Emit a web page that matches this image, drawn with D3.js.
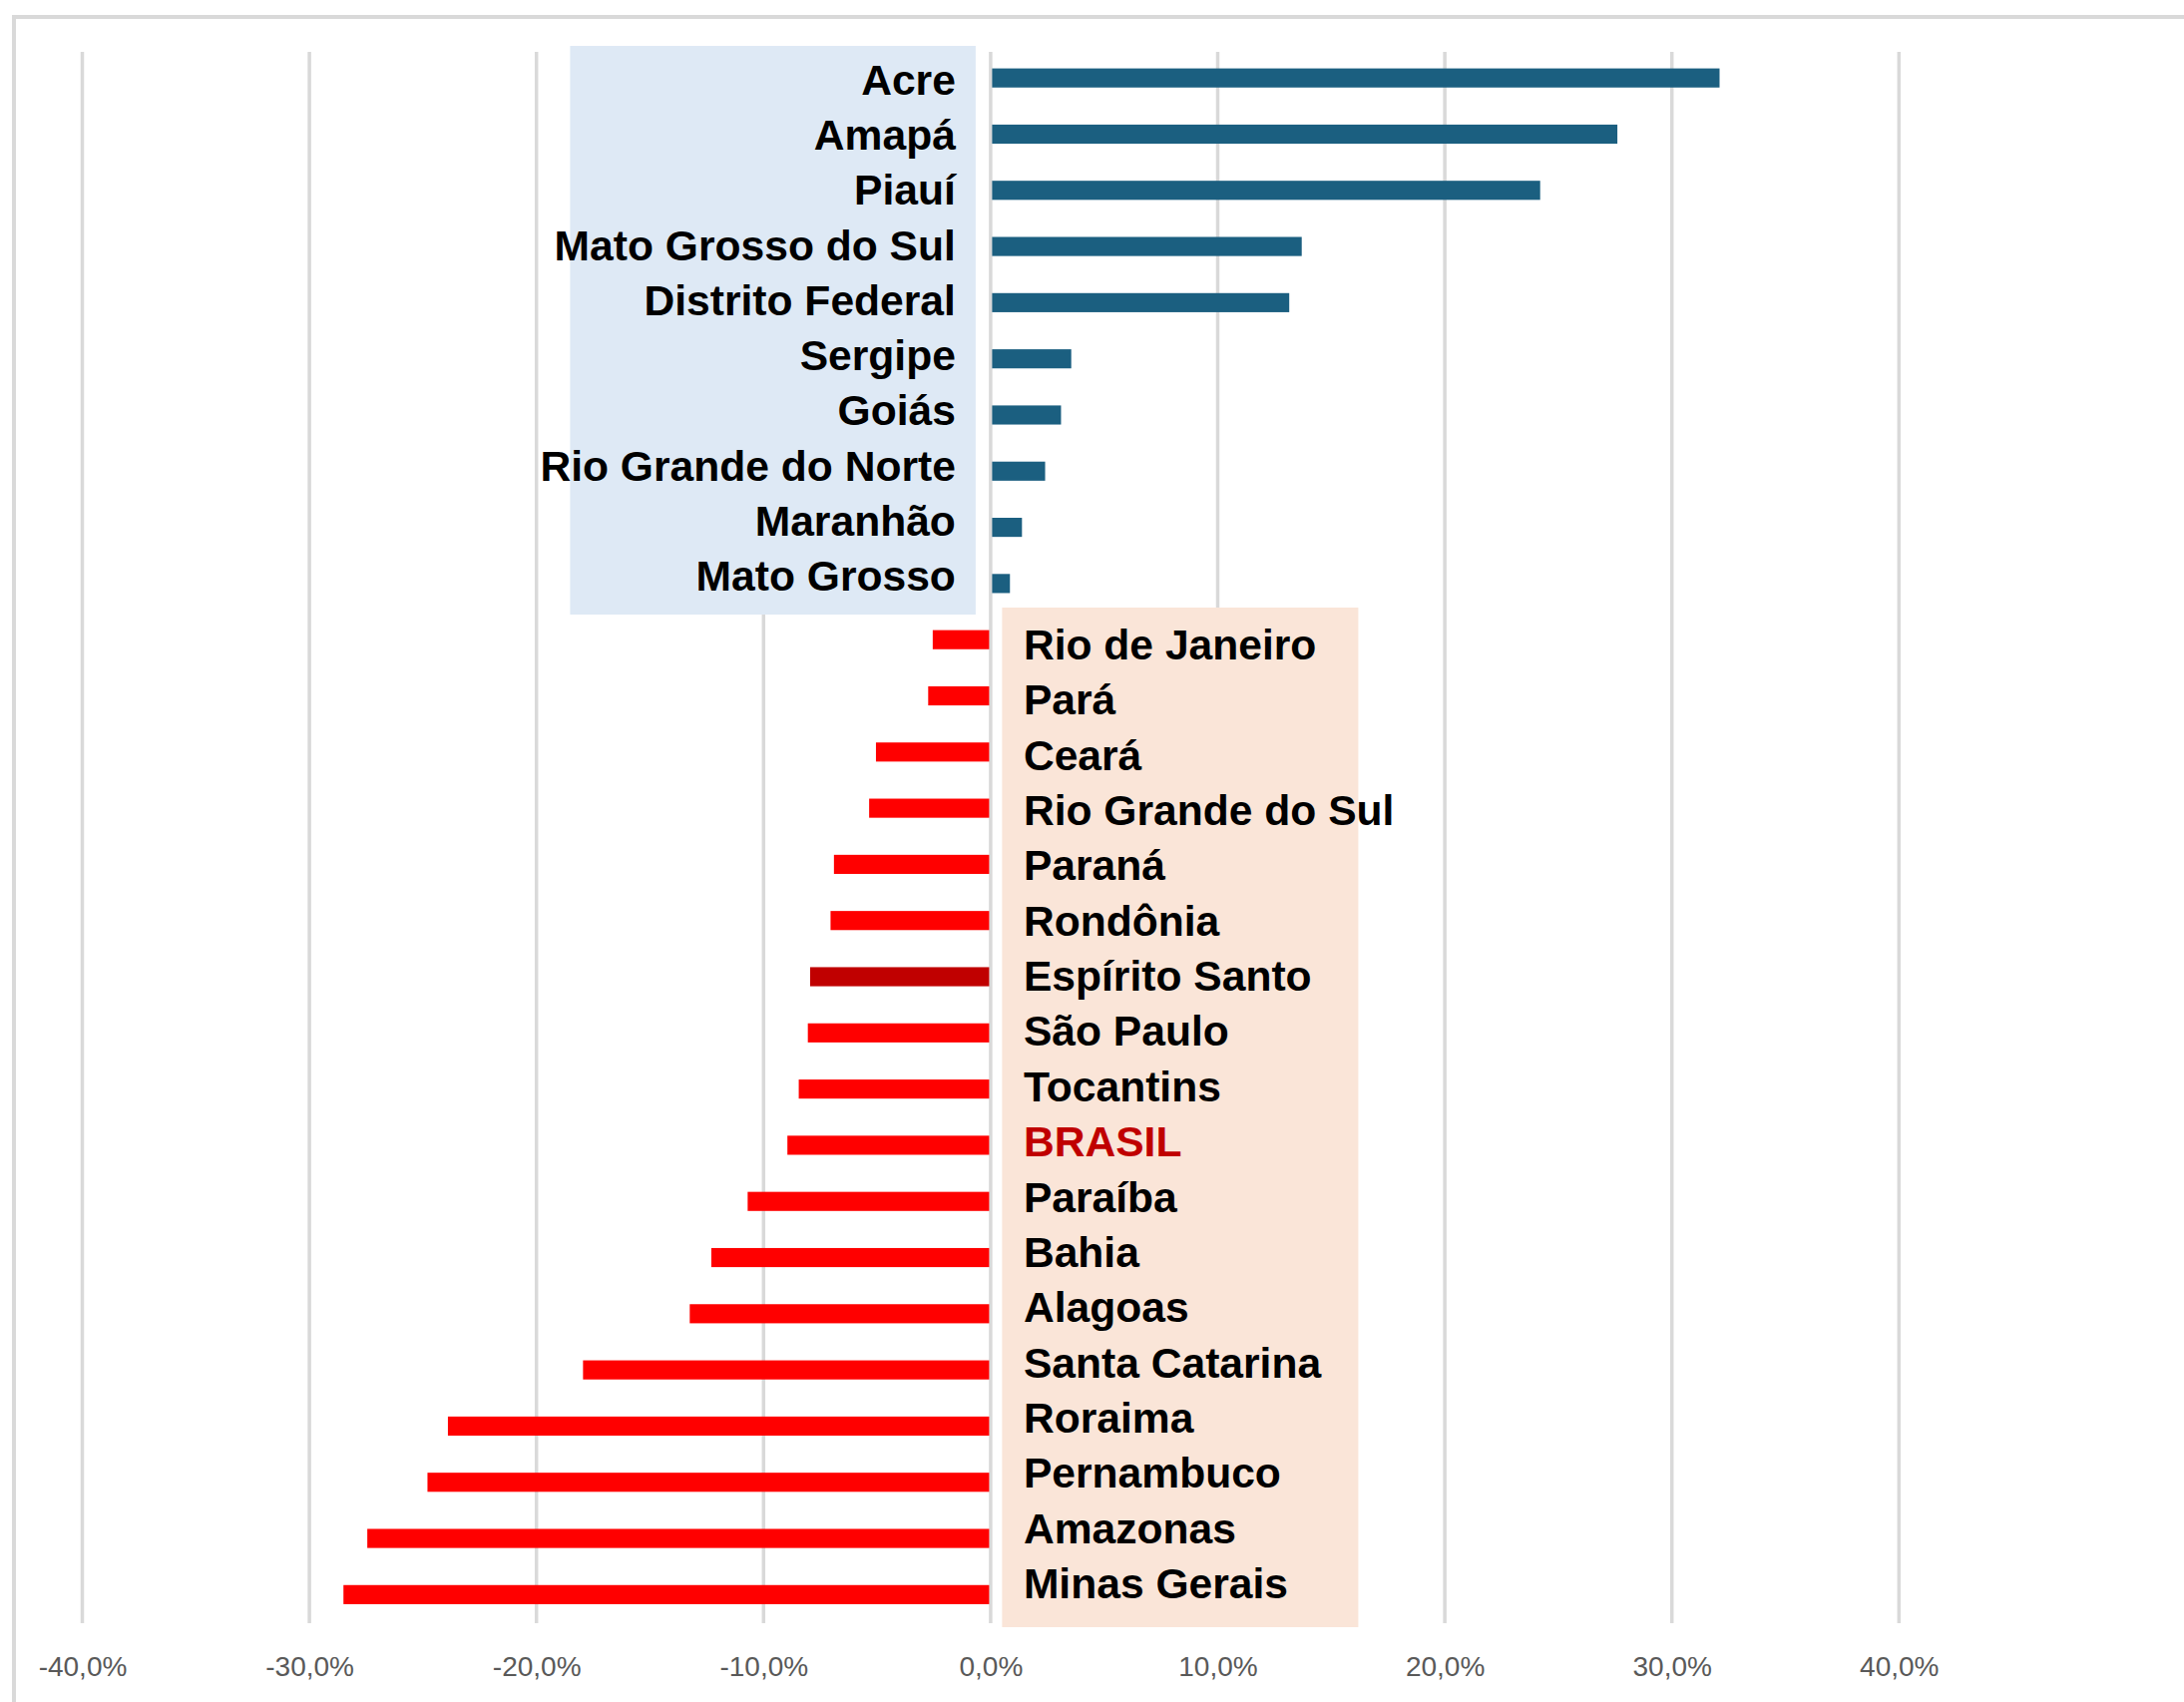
<!DOCTYPE html>
<html>
<head>
<meta charset="utf-8">
<script src="https://cdn.jsdelivr.net/npm/d3@7"></script>
<style>
  body { margin: 0; background: #fff; }
  svg { display: block; }
</style>
</head>
<body>
<div id="chart"></div>
<script>
// estados, de cima para baixo
const states = ["Acre", "Amapá", "Piauí", "Mato Grosso do Sul", "Distrito Federal", "Sergipe", "Goiás",
  "Rio Grande do Norte", "Maranhão", "Mato Grosso", "Rio de Janeiro", "Pará", "Ceará", "Rio Grande do Sul",
  "Paraná", "Rondônia", "Espírito Santo", "São Paulo", "Tocantins", "BRASIL", "Paraíba", "Bahia", "Alagoas",
  "Santa Catarina", "Roraima", "Pernambuco", "Amazonas", "Minas Gerais"];
// variação (%)
const values = [32.1, 27.6, 24.2, 13.7, 13.15, 3.55, 3.1, 2.4, 1.38, 0.85, -2.55, -2.75, -5.05, -5.35,
  -6.9, -7.05, -7.95, -8.05, -8.45, -8.95, -10.7, -12.3, -13.25, -17.95, -23.9, -24.8, -27.45, -28.5];
const ticks = [-40, -30, -20, -10, 0, 10, 20, 30, 40];
const highlight = "Espírito Santo";
const total = "BRASIL";

const data = states.map((s, i) => ({ name: s, value: values[i] }));
const pos = data.filter(d => d.value >= 0).map(d => d.name);
const neg = data.filter(d => d.value < 0).map(d => d.name);

const W = 2189, H = 1706;
const svg = d3.select("#chart").append("svg").attr("width", W).attr("height", H);

const x = d3.scaleLinear().domain([-40, 40]).range([82.5, 1903.3]);
const y = d3.scaleBand().domain(states).range([50, 1626.5]).paddingInner(0.66).paddingOuter(0.33);
// os rótulos ficam em caixas de texto, com espaçamento próprio
const yPos = d3.scalePoint().domain(pos).range([95, 592]);
const yNeg = d3.scalePoint().domain(neg).range([661, 1602]);

// moldura
svg.append("path")
  .attr("d", `M14,${H} V17 H${W}`)
  .attr("fill", "none")
  .style("stroke", "#d9d9d9")
  .style("stroke-width", 4);

// grade
svg.selectAll(".grid")
  .data(ticks)
  .enter()
  .append("line")
  .attr("class", "grid")
  .attr("x1", d => x(d)).attr("x2", d => x(d))
  .attr("y1", 52).attr("y2", 1627)
  .style("stroke", "#d9d9d9")
  .style("stroke-width", 3.5);

// caixas de fundo dos rótulos
const x0 = x(0);
svg.append("rect")
  .attr("x", x0 - 421.5).attr("y", 46)
  .attr("width", 406.5).attr("height", 570)
  .style("fill", "#dee9f5");
svg.append("rect")
  .attr("x", x0 + 11.5).attr("y", 609)
  .attr("width", 357).attr("height", 1022)
  .style("fill", "#fae5d8");

// barras
svg.selectAll(".bar")
  .data(data)
  .enter()
  .append("rect")
  .attr("class", "bar")
  .attr("x", d => x(Math.min(0, d.value)) + (d.value >= 0 ? 1.5 : 0))
  .attr("y", d => y(d.name))
  .attr("width", d => Math.abs(x(d.value) - x0) - 1.5)
  .attr("height", y.bandwidth())
  .style("fill", d => d.value >= 0 ? "#1b5f80" : (d.name === highlight ? "#c00000" : "#ff0000"));

// rótulos dos estados
svg.selectAll(".lbl")
  .data(data)
  .enter()
  .append("text")
  .attr("class", "lbl")
  .text(d => d.name)
  .attr("x", d => d.value >= 0 ? x0 - 35 : x0 + 33)
  .attr("y", d => d.value >= 0 ? yPos(d.name) : yNeg(d.name))
  .attr("text-anchor", d => d.value >= 0 ? "end" : "start")
  .style("font-family", "'Liberation Sans', Arial, sans-serif")
  .style("font-weight", "bold")
  .style("font-size", "42.6px")
  .style("fill", d => d.name === total ? "#c00000" : "#000");

// eixo x
const fmt = d => d.toFixed(1).replace(".", ",") + "%";
const axis = svg.append("g")
  .attr("transform", "translate(0,1680)")
  .call(d3.axisBottom(x).tickValues(ticks).tickFormat(fmt).tickSize(0).tickPadding(0));
axis.select(".domain").remove();
axis.selectAll("text")
  .attr("dy", 0)
  .style("font-family", "'Liberation Sans', Arial, sans-serif")
  .style("font-size", "28px")
  .style("fill", "#595959");
</script>
</body>
</html>
